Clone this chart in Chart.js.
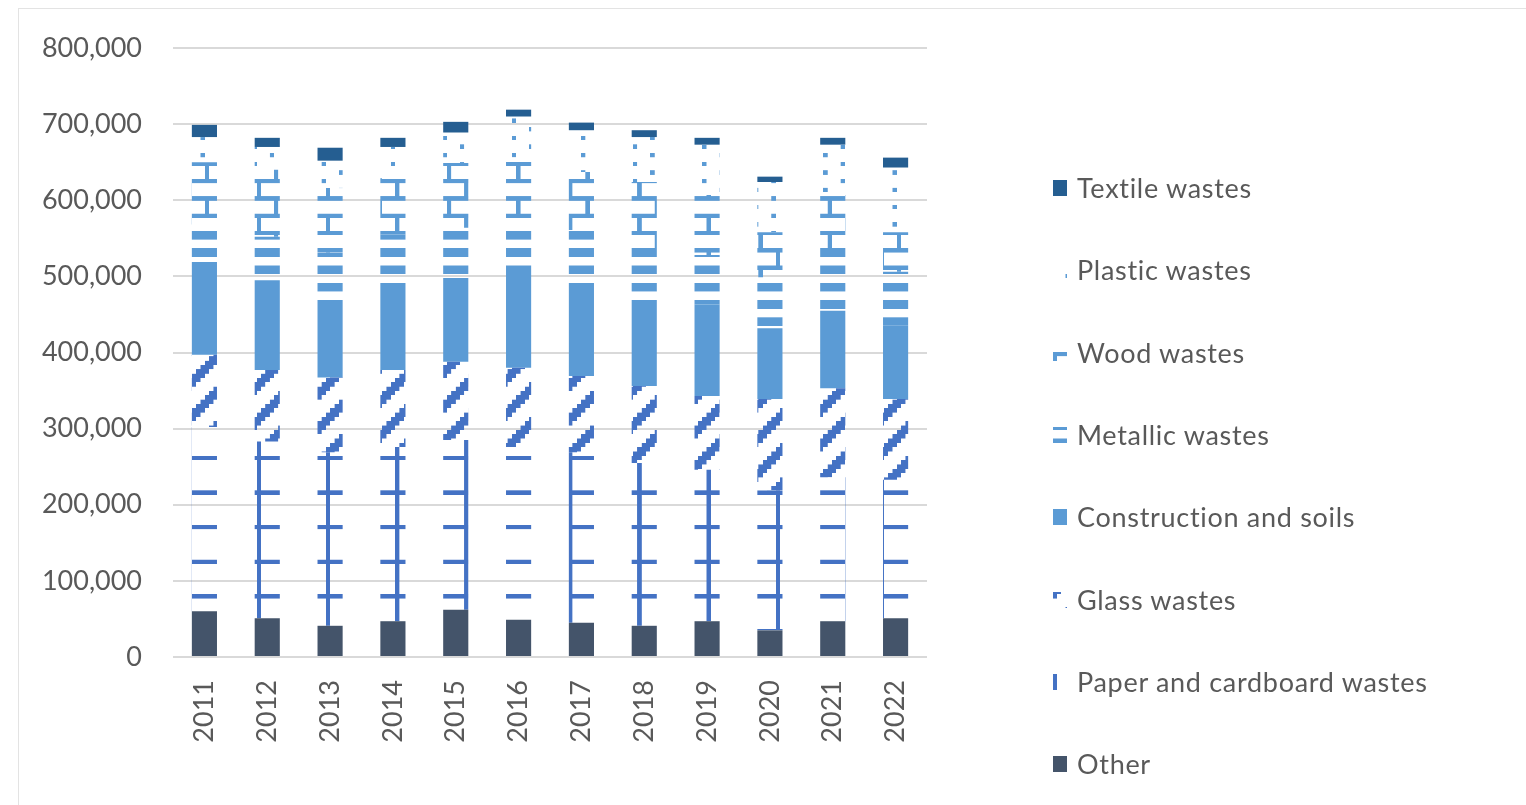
<!DOCTYPE html>
<html>
<head>
<meta charset="utf-8">
<script src="https://cdn.jsdelivr.net/npm/chart.js@4.4.0/dist/chart.umd.min.js"></script>
<style>
  html, body { margin: 0; padding: 0; background: #fff; overflow: hidden; }
  #frame { position: absolute; left: 18px; top: 8px; width: 1600px; height: 900px; border: 1px solid #e3e3e3; }
  #grafico { position: absolute; left: 0; top: 0; }
  .leyenda { position: absolute; left: 1077px; height: 34px; line-height: 34px; white-space: nowrap; letter-spacing: 0.7px;
             font-family: Lato, "Open Sans", sans-serif; font-size: 27px; color: #595959; }
  .muestra { position: absolute; left: 1053px; }
</style>
</head>
<body>
<div id="frame"></div>
<canvas id="grafico" width="1526" height="805"></canvas>
<div id="caja-leyenda"></div>
<script>
// datos (toneladas)
const years = ['2011', '2012', '2013', '2014', '2015', '2016', '2017', '2018', '2019', '2020', '2021', '2022'];
const other        = [60000, 51000, 41000, 47000, 62000, 49000, 45000, 41000, 47000, 35000, 47000, 51000];
const paper        = [242000, 232000, 228000, 229000, 223000, 227000, 224000, 214000, 199000, 184000, 189000, 182000];
const glass        = [95000, 94000, 98000, 101000, 103000, 104000, 100000, 101000, 97000, 120000, 117000, 106000];
const construction = [122000, 118000, 102000, 109000, 110000, 123000, 117000, 113000, 120000, 93000, 102000, 96000];
const metallic     = [49000, 57000, 62000, 69000, 66000, 65000, 75000, 63000, 65000, 67000, 77000, 71000];
const wood         = [82000, 88000, 85000, 74000, 85000, 88000, 76000, 92000, 79000, 59000, 75000, 52000];
const plastic      = [33000, 30000, 36000, 41000, 40000, 54000, 55000, 59000, 66000, 66000, 66000, 85000];
const textile      = [16000, 12000, 17000, 12000, 14000, 9000, 10000, 9000, 9000, 7000, 9000, 13000];
const yTicks = [0, 100000, 200000, 300000, 400000, 500000, 600000, 700000, 800000];

// tramas estilo Excel (celdas de 8x8)
const U = 4.325, X0 = 14.5, Y0 = 6;
const tramas = {
  puntos:  (c, r) => (c === 7 && (r === 0 || r === 4)) || (c === 3 && (r === 2 || r === 6)),
  ladrillo:(c, r) => r === 0 || r === 4 || (c === 0 && r < 4) || (c === 4 && r > 4),
  franjas: (c, r) => r % 4 < 2,
  diagonal:(c, r) => [6, 7, 0].includes((c + r) % 8),
  rejilla: (c, r) => r === 0 || c === 0
};

function relleno(ctx, tipo, color, dx, dy) {
  if (!tipo) return color;
  const S = 10;
  const tile = document.createElement('canvas');
  tile.width = tile.height = 8 * S;
  const t = tile.getContext('2d');
  t.fillStyle = color;
  for (let r = 0; r < 8; r++)
    for (let c = 0; c < 8; c++)
      if (tramas[tipo](c, r)) t.fillRect(c * S, r * S, S, S);
  const p = ctx.createPattern(tile, 'repeat');
  p.setTransform(new DOMMatrix().translate(X0 - dx, Y0 - dy).scale(U / S));
  return p;
}

const series = [
  { label: 'Other', data: other, color: '#44546A', tipo: null },
  { label: 'Paper and cardboard wastes', data: paper, color: '#4472C4', tipo: 'rejilla' },
  { label: 'Glass wastes', data: glass, color: '#4472C4', tipo: 'diagonal' },
  { label: 'Construction and soils', data: construction, color: '#5B9BD5', tipo: null },
  { label: 'Metallic wastes', data: metallic, color: '#5B9BD5', tipo: 'franjas' },
  { label: 'Wood wastes', data: wood, color: '#5B9BD5', tipo: 'ladrillo' },
  { label: 'Plastic wastes', data: plastic, color: '#5B9BD5', tipo: 'puntos' },
  { label: 'Textile wastes', data: textile, color: '#255E91', tipo: null }
];

const canvas = document.getElementById('grafico');
const ctx = canvas.getContext('2d');
const fuente = { family: 'Lato', size: 27 };

new Chart(ctx, {
  type: 'bar',
  data: {
    labels: years,
    datasets: series.map(s => ({
      label: s.label,
      data: s.data,
      backgroundColor: relleno(ctx, s.tipo, s.color, 0, 0),
      borderWidth: 0,
      barPercentage: 0.4,
      categoryPercentage: 1
    }))
  },
  options: {
    responsive: false,
    animation: false,
    layout: { padding: { left: 0, right: 599, top: 48, bottom: 0 } },
    plugins: { legend: { display: false }, tooltip: { enabled: false } },
    scales: {
      x: {
        stacked: true,
        grid: { display: false, drawTicks: false },
        border: { display: false },
        ticks: { color: '#595959', font: fuente, minRotation: 90, maxRotation: 90, padding: 23 },
        afterFit: s => { s.height = 148; }
      },
      y: {
        stacked: true,
        min: 0,
        max: 800000,
        afterBuildTicks: s => { s.ticks = yTicks.map(v => ({ value: v })); },
        ticks: { color: '#595959', font: fuente, padding: 31 },
        grid: { color: '#d9d9d9', lineWidth: 2, drawTicks: false },
        border: { display: false },
        afterFit: s => { s.width = 173; }
      }
    }
  }
});

// leyenda HTML con muestras de trama
const caja = document.getElementById('caja-leyenda');
const centros = [188, 270, 353, 435, 517, 600, 682, 764];
series.slice().reverse().forEach((s, i) => {
  const cy = centros[i];
  const sw = document.createElement('canvas');
  sw.width = 14; sw.height = 16;
  sw.className = 'muestra';
  sw.style.top = (cy - 8) + 'px';
  const sctx = sw.getContext('2d');
  sctx.fillStyle = relleno(sctx, s.tipo, s.color, 1053, cy - 8);
  sctx.fillRect(0, 0, 14, 16);
  caja.appendChild(sw);
  const txt = document.createElement('div');
  txt.className = 'leyenda';
  txt.style.top = (cy - 17) + 'px';
  txt.textContent = s.label;
  caja.appendChild(txt);
});
</script>
</body>
</html>
